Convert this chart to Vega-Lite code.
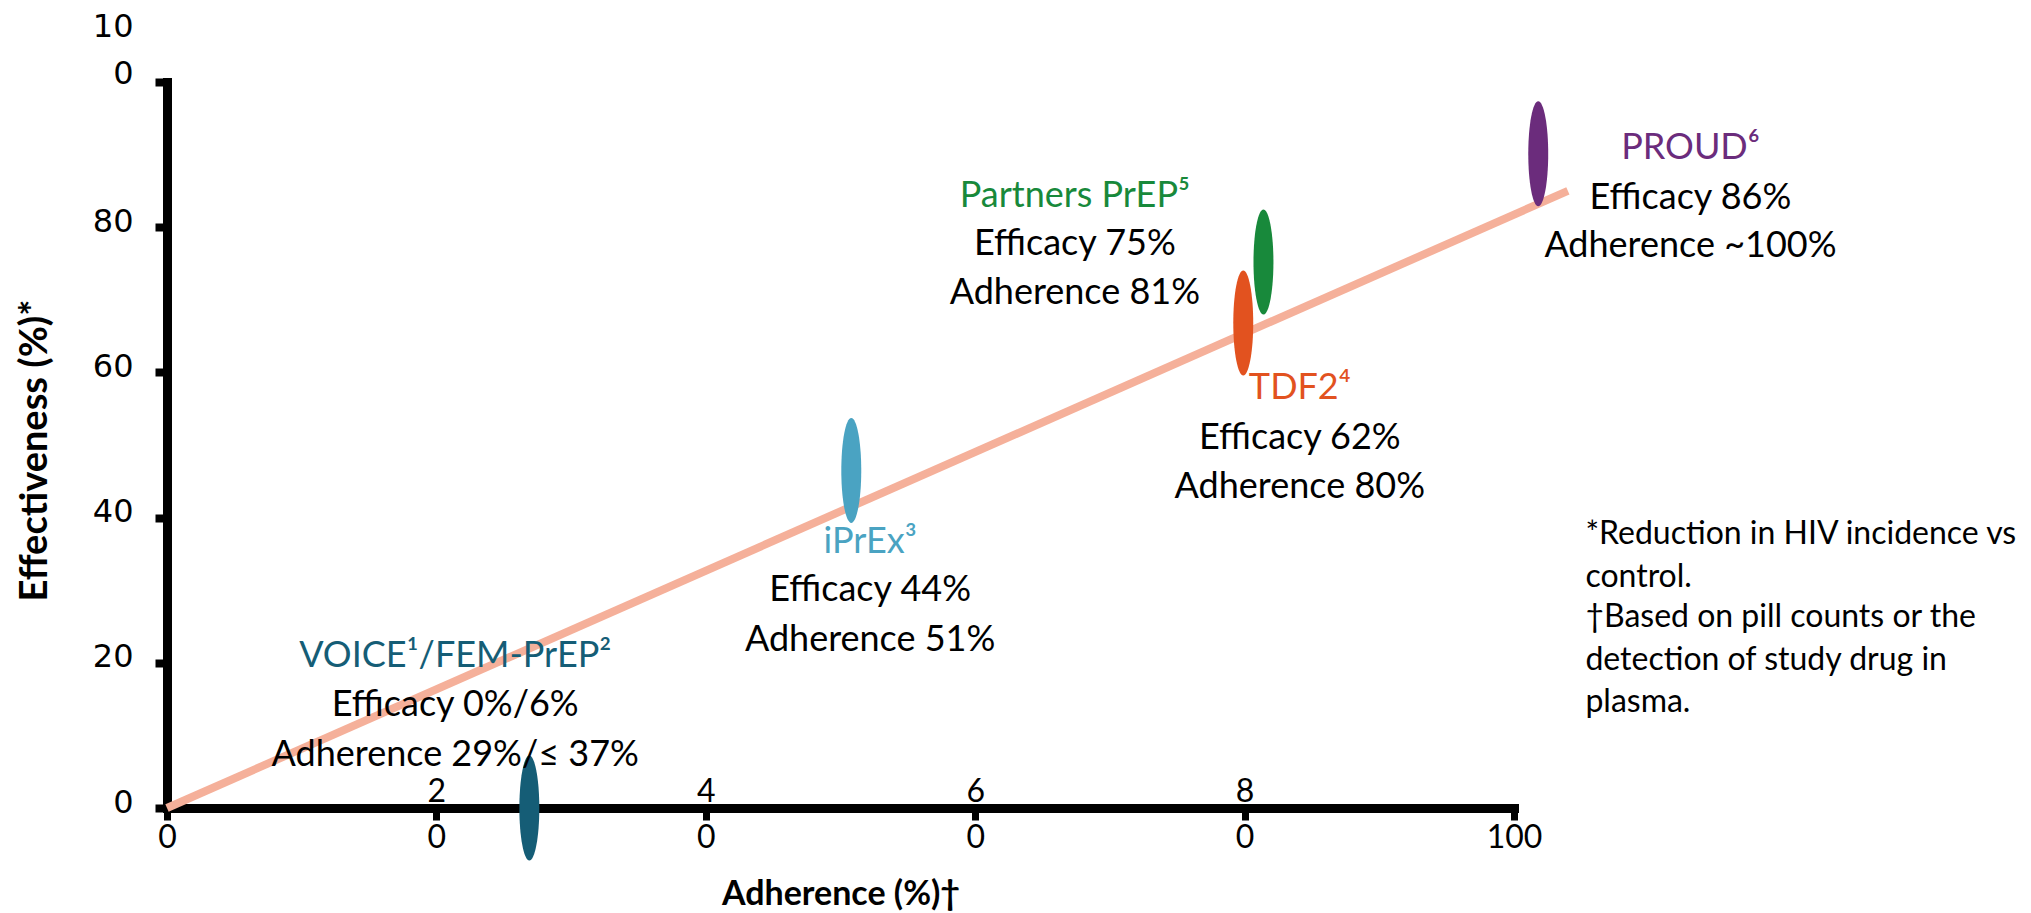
{
  "$schema": "https://vega.github.io/schema/vega-lite/v6.json",
  "autosize": {"type": "none"},
  "padding": {"left": 167, "top": 82, "right": 517, "bottom": 105},
  "width": 1347,
  "height": 726,
  "background": "white",
  "config": {"view": {"stroke": null}},
  "datasets": {
    "trend": [
      {"adherence": 0, "effectiveness": 0},
      {"adherence": 104, "effectiveness": 85}
    ],
    "studies": [
      {"study": "VOICE", "adherence": 26.9, "effectiveness": 0},
      {"study": "iPrEx", "adherence": 50.8, "effectiveness": 46.5},
      {"study": "TDF2", "adherence": 79.9, "effectiveness": 66.8},
      {"study": "Partners", "adherence": 81.4, "effectiveness": 75.2},
      {"study": "PROUD", "adherence": 101.8, "effectiveness": 90.1}
    ],
    "labels": [
      {"study": "VOICE", "adherence": 21.4, "effectiveness": 21.0, "text": "VOICE¹/FEM-PrEP²"},
      {"study": "body", "adherence": 21.4, "effectiveness": 14.2, "text": "Efficacy 0%/6%"},
      {"study": "body", "adherence": 21.4, "effectiveness": 7.3, "text": "Adherence 29%/≤ 37%"},
      {"study": "iPrEx", "adherence": 52.2, "effectiveness": 36.7, "text": "iPrEx³"},
      {"study": "body", "adherence": 52.2, "effectiveness": 30.0, "text": "Efficacy 44%"},
      {"study": "body", "adherence": 52.2, "effectiveness": 23.1, "text": "Adherence 51%"},
      {"study": "TDF2", "adherence": 84.1, "effectiveness": 57.8, "text": "TDF2⁴"},
      {"study": "body", "adherence": 84.1, "effectiveness": 51.0, "text": "Efficacy 62%"},
      {"study": "body", "adherence": 84.1, "effectiveness": 44.2, "text": "Adherence 80%"},
      {"study": "Partners", "adherence": 67.4, "effectiveness": 84.3, "text": "Partners PrEP⁵"},
      {"study": "body", "adherence": 67.4, "effectiveness": 77.7, "text": "Efficacy 75%"},
      {"study": "body", "adherence": 67.4, "effectiveness": 71.0, "text": "Adherence 81%"},
      {"study": "PROUD", "adherence": 113.1, "effectiveness": 90.9, "text": "PROUD⁶"},
      {"study": "body", "adherence": 113.1, "effectiveness": 84.0, "text": "Efficacy 86%"},
      {"study": "body", "adherence": 113.1, "effectiveness": 77.4, "text": "Adherence ~100%"}
    ],
    "notes": [
      {"adherence": 105.3, "effectiveness": 37.8, "text": "*Reduction in HIV incidence vs"},
      {"adherence": 105.3, "effectiveness": 31.8, "text": "control."},
      {"adherence": 105.3, "effectiveness": 26.3, "text": "†Based on pill counts or the"},
      {"adherence": 105.3, "effectiveness": 20.4, "text": "detection of study drug in"},
      {"adherence": 105.3, "effectiveness": 14.6, "text": "plasma."}
    ]
  },
  "encoding": {
    "x": {
      "field": "adherence",
      "type": "quantitative",
      "scale": {"domain": [0, 100], "nice": false, "zero": false},
      "axis": {
        "values": [0, 20, 40, 60, 80, 100],
        "grid": false,
        "domainColor": "black",
        "domainWidth": 9,
        "domainCap": "square",
        "tickColor": "black",
        "tickWidth": 7,
        "tickSize": 12,
        "labelFont": "Lato",
        "labelFontSize": 32,
        "labelColor": "black",
        "labelLineHeight": 46,
        "labelBaseline": "middle",
        "labelPadding": -29,
        "labelFlush": false,
        "labelOverlap": false,
        "labelExpr": "datum.value == 0 ? ['', '0'] : datum.value == 100 ? ['', '100'] : [substring(datum.label, 0, 1), '0']",
        "title": "Adherence (%)†",
        "titleFont": "Lato",
        "titleFontWeight": "bold",
        "titleFontSize": 34,
        "titleColor": "black",
        "titleY": 86,
        "titleBaseline": "middle"
      }
    },
    "y": {
      "field": "effectiveness",
      "type": "quantitative",
      "scale": {"domain": [0, 100], "nice": false},
      "axis": {
        "values": [0, 20, 40, 60, 80, 100],
        "grid": false,
        "domainColor": "black",
        "domainWidth": 9,
        "domainCap": "square",
        "tickColor": "black",
        "tickWidth": 8,
        "tickSize": 12,
        "labelFont": "DejaVu Sans",
        "labelFontSize": 32,
        "labelColor": "black",
        "labelLineHeight": 47,
        "labelPadding": 22,
        "labelFlush": false,
        "labelOverlap": false,
        "labelExpr": "datum.value == 100 ? ['10', '0'] : datum.label",
        "labelBaseline": {"condition": {"test": "datum.value == 100", "value": "bottom"}, "value": "middle"},
        "labelOffset": {"condition": {"test": "datum.value == 100", "value": -39}, "value": -6},
        "title": "Effectiveness (%)*",
        "titleFont": "Lato",
        "titleFontWeight": "bold",
        "titleFontSize": 38,
        "titleColor": "black",
        "titleX": -132,
        "titleY": 368,
        "titleAngle": -90,
        "titleBaseline": "middle"
      }
    }
  },
  "layer": [
    {
      "data": {"name": "trend"},
      "mark": {"type": "line", "color": "#f5b09a", "strokeWidth": 8, "strokeCap": "butt"}
    },
    {
      "data": {"name": "studies"},
      "mark": {"type": "point", "shape": "M0,-1 A0.19,1 0 1,1 0,1 A0.19,1 0 1,1 0,-1 Z", "filled": true, "opacity": 1, "size": 11025, "strokeWidth": 0},
      "encoding": {
        "color": {
          "field": "study",
          "type": "nominal",
          "scale": {
            "domain": ["VOICE", "iPrEx", "TDF2", "Partners", "PROUD", "body"],
            "range": ["#155d76", "#4aa3c2", "#e2521f", "#18893b", "#6b2c7c", "#000000"]
          },
          "legend": null
        }
      }
    },
    {
      "data": {"name": "labels"},
      "mark": {"type": "text", "font": "Lato", "fontSize": 36, "align": "center", "baseline": "middle"},
      "encoding": {
        "text": {"field": "text"},
        "color": {"field": "study", "type": "nominal", "legend": null}
      }
    },
    {
      "data": {"name": "notes"},
      "mark": {"type": "text", "font": "Lato", "fontSize": 32, "align": "left", "baseline": "middle", "color": "black"},
      "encoding": {
        "text": {"field": "text"}
      }
    }
  ]
}
